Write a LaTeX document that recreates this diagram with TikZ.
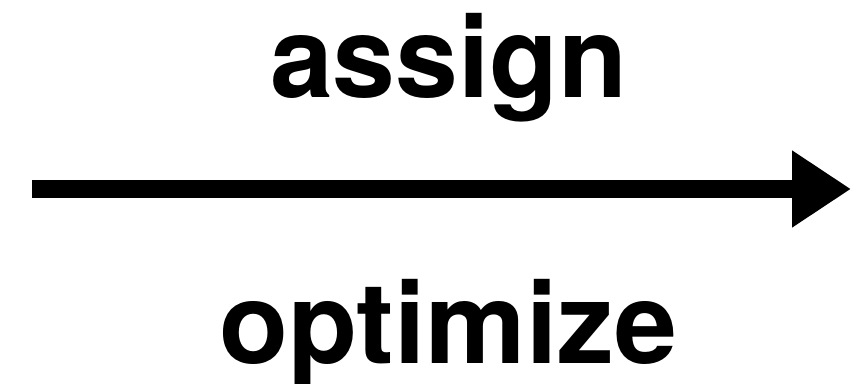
\documentclass[tikz,border=0pt]{standalone}
\usepackage{fontspec}
\setmainfont{TeX Gyre Heros}
\usetikzlibrary{arrows.meta}
\tikzset{
  label text/.style={font=\fontsize{113pt}{113pt}\selectfont\bfseries, inner sep=0pt, anchor=base},
  big arrow/.style={line width=18pt, -{Triangle[length=59pt,width=73pt]}}
}
\begin{document}
\begin{tikzpicture}[x=1pt,y=1pt]
\useasboundingbox (0,0) rectangle (851,383);
\node[label text] (assign) at (449,285) {assign};
\node[label text] (optimize) at (448,20) {optimize};
\coordinate (start) at (32,194);
\coordinate (end) at (851,194);
\draw[big arrow] (start) -- (end);
\end{tikzpicture}
\end{document}
